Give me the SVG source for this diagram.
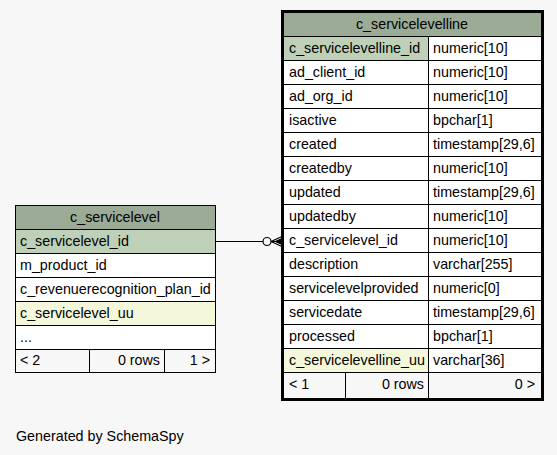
<svg xmlns="http://www.w3.org/2000/svg" width="557" height="455" viewBox="0 0 557 455">
<style>
text{font-family:"Liberation Sans",Arial,sans-serif;font-size:14.3px;fill:#000}
.c{text-anchor:middle}
.r{text-anchor:end}
.hd{fill:#9bab96}
.pk{fill:#bed1b8}
.uu{fill:#f4f7da}
.wh{fill:#ffffff}
.ft{fill:#f7f7f7}
.ln{stroke:#000;stroke-width:1;fill:none}
</style>
<rect width="557" height="455" fill="#f7f7f7"/>
<g id="c_servicelevel">
<rect x="15.5" y="205.5" width="200" height="167" fill="#ffffff" stroke="#000"/>
<rect class="hd" x="16" y="206" width="199" height="23"/>
<rect class="pk" x="16" y="230" width="199" height="23"/>
<rect class="uu" x="16" y="302" width="199" height="23"/>
<rect class="ft" x="16" y="350" width="199" height="22"/>
<path class="ln" d="M15 229.5H216M15 253.5H216M15 277.5H216M15 301.5H216M15 325.5H216M15 349.5H216M89.5 349V373M164.5 349V373"/>
<text class="c" x="115" y="222">c_servicelevel</text>
<text x="20" y="246">c_servicelevel_id</text>
<text x="20" y="270">m_product_id</text>
<text x="20" y="294">c_revenuerecognition_plan_id</text>
<text x="20" y="318">c_servicelevel_uu</text>
<text x="20" y="342">...</text>
<text x="20" y="365">&lt; 2</text>
<text class="r" x="160" y="365">0 rows</text>
<text class="r" x="210" y="365">1 &gt;</text>
</g>
<g id="c_servicelevelline">
<rect x="282.5" y="11.5" width="260" height="388" fill="#ffffff" stroke="#000" stroke-width="3"/>
<rect class="hd" x="284" y="13" width="257" height="23"/>
<rect class="pk" x="284" y="37" width="144" height="23"/>
<rect class="uu" x="284" y="349" width="144" height="23"/>
<rect class="ft" x="284" y="373" width="257" height="25"/>
<path class="ln" d="M284 36.5H541M284 60.5H541M284 84.5H541M284 108.5H541M284 132.5H541M284 156.5H541M284 180.5H541M284 204.5H541M284 228.5H541M284 252.5H541M284 276.5H541M284 300.5H541M284 324.5H541M284 348.5H541M284 372.5H541M428.5 36V398M345.5 372V398"/>
<text class="c" x="412" y="29">c_servicelevelline</text>
<text x="289" y="53">c_servicelevelline_id</text><text x="433" y="53">numeric[10]</text>
<text x="289" y="77">ad_client_id</text><text x="433" y="77">numeric[10]</text>
<text x="289" y="101">ad_org_id</text><text x="433" y="101">numeric[10]</text>
<text x="289" y="125">isactive</text><text x="433" y="125">bpchar[1]</text>
<text x="289" y="149">created</text><text x="433" y="149">timestamp[29,6]</text>
<text x="289" y="173">createdby</text><text x="433" y="173">numeric[10]</text>
<text x="289" y="197">updated</text><text x="433" y="197">timestamp[29,6]</text>
<text x="289" y="221">updatedby</text><text x="433" y="221">numeric[10]</text>
<text x="289" y="245">c_servicelevel_id</text><text x="433" y="245">numeric[10]</text>
<text x="289" y="269">description</text><text x="433" y="269">varchar[255]</text>
<text x="289" y="293">servicelevelprovided</text><text x="433" y="293">numeric[0]</text>
<text x="289" y="317">servicedate</text><text x="433" y="317">timestamp[29,6]</text>
<text x="289" y="341">processed</text><text x="433" y="341">bpchar[1]</text>
<text x="289" y="365">c_servicelevelline_uu</text><text x="433" y="365">varchar[36]</text>
<text x="289" y="389">&lt; 1</text>
<text class="r" x="424" y="389">0 rows</text>
<text class="r" x="535" y="389">0 &gt;</text>
</g>
<g id="connectors">
<path d="M216 241.5H263" stroke="#000" stroke-width="1" fill="none"/>
<circle cx="267" cy="241.5" r="4" fill="none" stroke="#000" stroke-width="1.2"/>
<path d="M271 241.5L283 236M271 241.5H283M271 241.5L283 247" stroke="#000" stroke-width="1.2" fill="none"/>
<path d="M274 241.5L283 237.5V245.5Z" fill="#000"/>
</g>
<text x="16" y="441">Generated by SchemaSpy</text>
</svg>
